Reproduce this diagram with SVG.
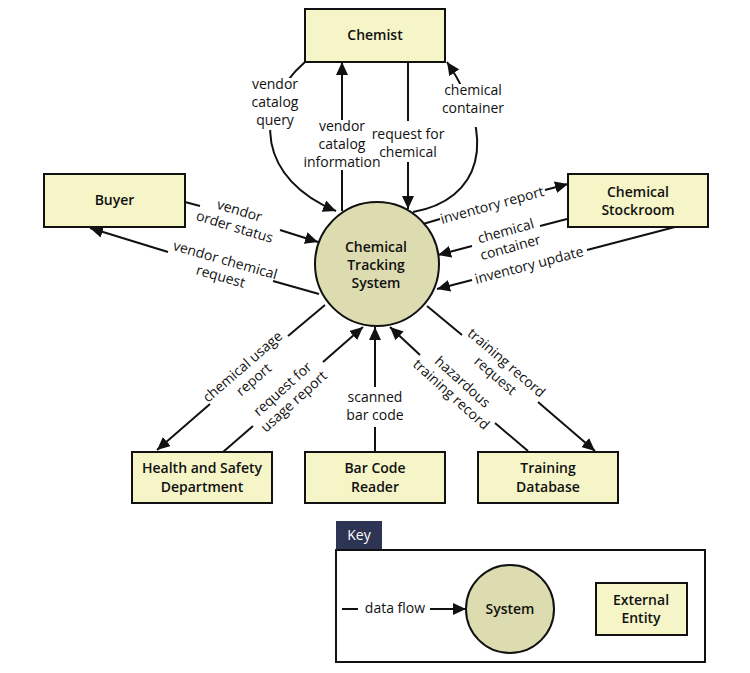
<svg xmlns="http://www.w3.org/2000/svg" width="750" height="673" viewBox="0 0 750 673">
<style>
.box{fill:#f5f5c8;stroke:#111;stroke-width:2}
.sys{fill:#dcdcb0;stroke:#111;stroke-width:2}
.t{font-family:"Open Sans","Noto Sans","DejaVu Sans",sans-serif;font-size:14px;font-weight:600;fill:#111;text-anchor:middle}
.l{font-family:"Open Sans","Noto Sans","DejaVu Sans",sans-serif;font-size:14px;fill:#111;text-anchor:middle}
.c{fill:none;stroke:#111;stroke-width:2}
.a{fill:none;stroke:#111;stroke-width:2;marker-end:url(#arr)}
.bg{fill:#fff}
</style>
<defs>
<marker id="arr" markerUnits="userSpaceOnUse" markerWidth="14" markerHeight="12" refX="13" refY="6" orient="auto">
<path d="M0,0 L13,6 L0,12 z" fill="#111"/>
</marker>
</defs>

<g id="connectors">
<!-- Chemist flows -->
<path class="a" d="M305,62 C250,110 260,180 336,211"/>
<rect class="bg" x="262" y="78" width="38" height="52"/>
<line class="c" x1="342" y1="211" x2="342" y2="170"/>
<line class="a" x1="342" y1="120" x2="342" y2="62"/>
<line class="c" x1="408" y1="62" x2="408" y2="121"/>
<line class="a" x1="408" y1="162" x2="408" y2="209"/>
<path class="a" d="M413,212 C480,200 500,140 447,62"/>
<rect class="bg" x="455" y="84" width="35" height="43"/>
<!-- Buyer flows -->
<line class="c" x1="185" y1="202" x2="200" y2="206"/>
<line class="a" x1="280" y1="230" x2="318" y2="242"/>
<line class="c" x1="319" y1="294" x2="273" y2="281"/>
<line class="a" x1="168" y1="252" x2="90" y2="228"/>
<!-- Stockroom flows -->
<line class="c" x1="423" y1="224" x2="440" y2="219"/>
<line class="a" x1="545" y1="190" x2="568" y2="184"/>
<line class="c" x1="567" y1="219" x2="540" y2="226"/>
<line class="a" x1="472" y1="246" x2="438" y2="255"/>
<line class="c" x1="675" y1="227" x2="587" y2="250"/>
<line class="a" x1="472" y1="280" x2="437" y2="289"/>
<!-- Bottom flows -->
<line class="c" x1="325" y1="305" x2="288" y2="336"/>
<line class="a" x1="210" y1="404" x2="157" y2="450"/>
<line class="c" x1="223" y1="452" x2="253" y2="426"/>
<line class="a" x1="323" y1="362" x2="363" y2="327"/>
<line class="c" x1="375" y1="452" x2="375" y2="427"/>
<line class="a" x1="375" y1="387" x2="375" y2="327"/>
<line class="c" x1="528" y1="451" x2="495" y2="423"/>
<line class="a" x1="420" y1="355" x2="390" y2="327"/>
<line class="c" x1="427" y1="306" x2="462" y2="335"/>
<line class="a" x1="538" y1="402" x2="595" y2="451"/>
</g>

<g id="labels">
<text class="l" x="275" y="89">vendor</text>
<text class="l" x="275" y="107">catalog</text>
<text class="l" x="275" y="125">query</text>
<text class="l" x="342" y="131">vendor</text>
<text class="l" x="342" y="149">catalog</text>
<text class="l" x="342" y="167">information</text>
<text class="l" x="408" y="139">request for</text>
<text class="l" x="408" y="157">chemical</text>
<text class="l" x="473" y="95">chemical</text>
<text class="l" x="473" y="113">container</text>
<g transform="translate(237,219) rotate(17)"><text class="l" x="0" y="-4">vendor</text><text class="l" x="0" y="13">order status</text></g>
<g transform="translate(223,268) rotate(16)"><text class="l" x="0" y="-3.5">vendor chemical</text><text class="l" x="0" y="13.5">request</text></g>
<g transform="translate(492,205) rotate(-15.4)"><text class="l" x="0" y="5">inventory report</text></g>
<g transform="translate(508,239) rotate(-15.6)"><text class="l" x="0" y="-3.5">chemical</text><text class="l" x="0" y="13.5">container</text></g>
<g transform="translate(529,265) rotate(-14.6)"><text class="l" x="0" y="5">inventory update</text></g>
<g transform="translate(248,373) rotate(-41)"><text class="l" x="0" y="-3.5">chemical usage</text><text class="l" x="0" y="13.5">report</text></g>
<g transform="translate(288,395) rotate(-42)"><text class="l" x="0" y="-3.5">request for</text><text class="l" x="0" y="13.5">usage report</text></g>
<text class="l" x="375" y="402">scanned</text>
<text class="l" x="375" y="420">bar code</text>
<g transform="translate(457,388) rotate(42)"><text class="l" x="0" y="-3.5">hazardous</text><text class="l" x="0" y="13.5">training record</text></g>
<g transform="translate(501,369) rotate(40.8)"><text class="l" x="0" y="-3.5">training record</text><text class="l" x="0" y="13.5">request</text></g>
</g>

<g id="chemist"><rect class="box" x="305" y="9" width="140" height="53"/><text class="t" x="375" y="40">Chemist</text></g>
<g id="buyer"><rect class="box" x="44" y="174" width="141" height="53"/><text class="t" x="114.5" y="205">Buyer</text></g>
<g id="stockroom"><rect class="box" x="568" y="174" width="140" height="53"/><text class="t" x="638" y="197">Chemical</text><text class="t" x="638" y="215">Stockroom</text></g>
<g id="system"><circle class="sys" cx="377" cy="264" r="62"/><text class="t" x="376" y="252">Chemical</text><text class="t" x="376" y="270">Tracking</text><text class="t" x="376" y="288">System</text></g>
<g id="health"><rect class="box" x="132" y="452" width="140" height="51"/><text class="t" x="202" y="473">Health and Safety</text><text class="t" x="202" y="492">Department</text></g>
<g id="barcode"><rect class="box" x="305" y="452" width="140" height="51"/><text class="t" x="375" y="473">Bar Code</text><text class="t" x="375" y="492">Reader</text></g>
<g id="training"><rect class="box" x="478" y="452" width="140" height="51"/><text class="t" x="548" y="473">Training</text><text class="t" x="548" y="492">Database</text></g>

<g id="key">
<rect x="336" y="521" width="46" height="29" fill="#2e3453"/>
<text x="359" y="540" font-family="Open Sans, Noto Sans, sans-serif" font-size="14" fill="#fff" text-anchor="middle">Key</text>
<rect x="336" y="550" width="369" height="112" fill="#fff" stroke="#111" stroke-width="2"/>
<line class="c" x1="342" y1="609" x2="358" y2="609"/>
<text class="l" x="395" y="613">data flow</text>
<line class="a" x1="430" y1="609" x2="466" y2="609"/>
<circle class="sys" cx="510" cy="609" r="44"/>
<text class="t" x="510" y="614">System</text>
<rect class="box" x="596" y="583" width="91" height="52"/>
<text class="t" x="641" y="605">External</text>
<text class="t" x="641" y="623">Entity</text>
</g>
</svg>
